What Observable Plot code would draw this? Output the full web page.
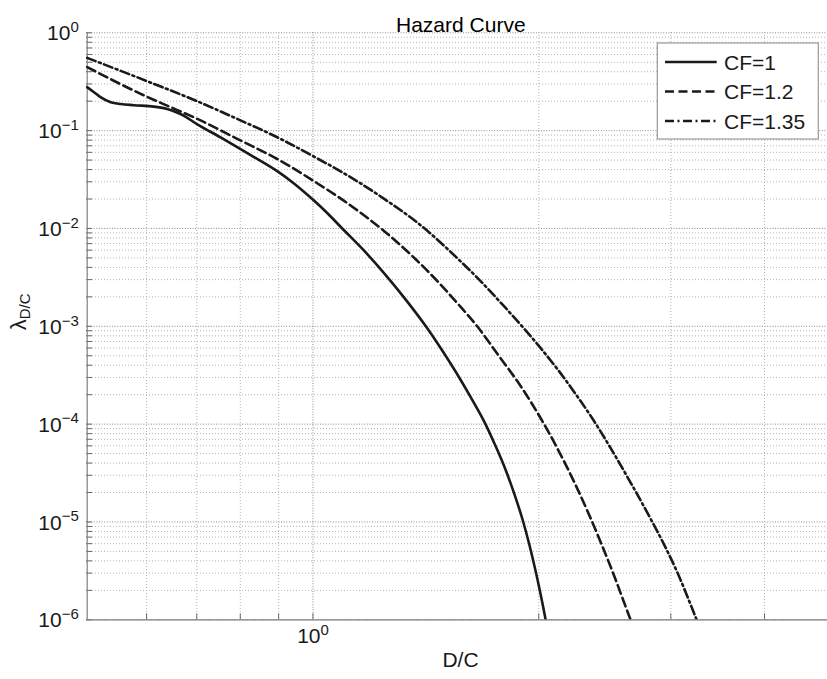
<!DOCTYPE html>
<html>
<head>
<meta charset="utf-8">
<script src="https://cdn.jsdelivr.net/npm/d3@7"></script>
<script src="https://cdn.jsdelivr.net/npm/@observablehq/plot@0.6"></script>
<style>
  html, body { margin: 0; padding: 0; background: #fff; }
  #wrap { position: relative; width: 827px; height: 679px; overflow: hidden; }
  #legend { position: absolute; left: 0; top: 0; pointer-events: none; }
</style>
</head>
<body>
<div id="wrap"></div>
<script>
// ---- data ----
const seriesNames = ["CF=1", "CF=1.2", "CF=1.35"];

const cf1X = [0.5, 0.5105, 0.5208, 0.5373, 0.5542, 0.5771, 0.6137, 0.6392, 0.6659, 0.7011, 0.7531, 0.7925, 0.8345, 0.8961, 0.9433, 1.003, 1.0471, 1.094, 1.1665, 1.2437, 1.3262, 1.4142, 1.4805, 1.55, 1.6228, 1.6982, 1.7462, 1.8009, 1.8569, 1.9055, 1.9444, 1.9847, 2.0262, 2.044, 2.0512];
const cf1Y = [0.278, 0.2472, 0.2198, 0.1954, 0.1871, 0.182, 0.1758, 0.1667, 0.1479, 0.1161, 0.0851, 0.0679, 0.0537, 0.0385, 0.02884, 0.01928, 0.01413, 0.01, 0.006067, 0.003499, 0.001919, 0.001, 0.000597, 0.0003428, 0.0001884, 0.0001, 6.31e-5, 3.63e-5, 1.905e-5, 1.023e-5, 5.75e-6, 2.95e-6, 1.38e-6, 9.77e-7, 8.51e-7];

const cf12X = [0.5, 0.6011, 0.6392, 0.7011, 0.7925, 0.8961, 1.0, 1.1248, 1.2458, 1.373, 1.4678, 1.5604, 1.6596, 1.7647, 1.8954, 2.0155, 2.1216, 2.2325, 2.3263, 2.423, 2.5238, 2.6303, 2.6571, 2.673];
const cf12Y = [0.4457, 0.2213, 0.1799, 0.1318, 0.0824, 0.0513, 0.0309, 0.01698, 0.00933, 0.004786, 0.002851, 0.001698, 0.000977, 0.000513, 0.0002399, 0.0001122, 5.5e-5, 2.512e-5, 1.259e-5, 6.03e-6, 2.754e-6, 1.175e-6, 9.55e-7, 8.32e-7];

const cf135X = [0.5, 0.6011, 0.7011, 0.7925, 0.8961, 1.0, 1.1248, 1.2458, 1.3804, 1.5604, 1.6765, 1.7829, 1.8954, 1.9953, 2.1216, 2.2555, 2.3618, 2.4984, 2.6571, 2.8253, 2.9734, 3.0665, 3.194, 3.2437, 3.2734];
const cf135Y = [0.5546, 0.3199, 0.1995, 0.1318, 0.0855, 0.05495, 0.03311, 0.01995, 0.01135, 0.004898, 0.002851, 0.001718, 0.001023, 0.000646, 0.000359, 0.0001884, 0.0001122, 5.56e-5, 2.455e-5, 1.047e-5, 4.9e-6, 2.951e-6, 1.38e-6, 1.023e-6, 8.51e-7];

// axis ticks / grid values
const yMajorTicks = [1e-6, 1e-5, 1e-4, 1e-3, 1e-2, 1e-1, 1];
const minorMultipliers = [2, 3, 4, 5, 6, 7, 8, 9];
const xMajorTicks = [1];
const xMinorTicks = [0.6, 0.7, 0.8, 0.9, 2, 3, 4];
const titleText = "Hazard Curve";
const xLabelText = "D/C";
const yLabelText = "λ_D/C";

// ---- build ----
const yMinorTicks = yMajorTicks.filter(d => d < 1).flatMap(d => minorMultipliers.map(m => m * d));
const rows = (xs, ys, name) => xs.map((x, i) => ({x, y: ys[i], name}));
const allSeries = [rows(cf1X, cf1Y, seriesNames[0]), rows(cf12X, cf12Y, seriesNames[1]), rows(cf135X, cf135Y, seriesNames[2])];
const dashes = [null, "9,4.5", "9,3.5,2,3.5"];
const lineColor = "#1a1a1a";
const expo = d => Math.round(Math.log10(d));

const W = 827, H = 679;
const mL = 86, mT = 32, mB = 59.7, mR = 0;
const gridMinor = {stroke: "#b4b4b4", strokeDasharray: "1,2", strokeWidth: 1};
const gridMajor = {stroke: "#8c8c8c", strokeDasharray: "1,1.6", strokeWidth: 1};
const frameH = H - mT - mB, frameW = W - mL - mR;

const plot = Plot.plot({
  width: W, height: H,
  marginLeft: mL, marginRight: mR, marginTop: mT, marginBottom: mB,
  style: {fontFamily: "'Liberation Sans', Arial, sans-serif", fontSize: "21px", background: "white", color: "#1a1a1a", overflow: "hidden"},
  x: {type: "log", domain: [0.5, 5], range: [86.7, 836.7], axis: null},
  y: {type: "log", domain: [1e-6, 1], range: [619.3, 32.3], axis: null},
  marks: [
    Plot.ruleY(yMinorTicks, {y: d => d, ...gridMinor}),
    Plot.ruleY(yMajorTicks, {y: d => d, ...gridMajor}),
    Plot.ruleX(xMinorTicks, {x: d => d, ...gridMinor}),
    Plot.ruleX(xMajorTicks, {x: d => d, ...gridMajor}),
    // inward ticks
    Plot.tickY(yMinorTicks.concat(yMajorTicks), {y: d => d, stroke: "#6a6a6a", insetRight: frameW - 6}),
    Plot.tickX(xMinorTicks.concat(xMajorTicks), {x: d => d, stroke: "#6a6a6a", insetTop: frameH - 6}),
    // axis lines
    Plot.ruleX([0.5], {x: d => d, stroke: "#808080", strokeWidth: 1.2}),
    Plot.ruleY([1e-6], {y: d => d, stroke: "#808080", strokeWidth: 1.2}),
    // curves
    ...allSeries.map((data, k) => Plot.line(data, {
      x: "x", y: "y", stroke: lineColor, strokeWidth: 2.6,
      strokeDasharray: dashes[k], curve: "monotone-x", clip: true
    })),
    // tick labels
    Plot.text(yMajorTicks, {y: d => d, frameAnchor: "left", textAnchor: "end", dx: -7.7, dy: 0.8,
      text: d => "10^" + expo(d), fontSize: 21, fill: "#1a1a1a"}),
    Plot.text(xMajorTicks, {x: d => d, frameAnchor: "bottom", dy: 23.3,
      text: d => "10^" + expo(d), fontSize: 21, fill: "#1a1a1a"}),
    // axis titles
    Plot.text([xLabelText], {frameAnchor: "bottom", dx: 3.5, dy: 47.3, text: d => d, fontSize: 21, fill: "#1a1a1a"}),
    Plot.text([yLabelText], {frameAnchor: "left", dx: -68, dy: 4.2, rotate: -90, text: d => d, fontSize: 22, fill: "#1a1a1a"}),
    Plot.text([titleText], {frameAnchor: "top", dx: 3.8, dy: -15, text: d => d, fontSize: 21, fill: "#000"})
  ]
});

// superscripts / subscripts as real text
d3.select(plot).selectAll("text").each(function() {
  const t = this.textContent;
  let m = /^10\^(.+)$/.exec(t);
  if (m) {
    this.textContent = "10";
    const ts = document.createElementNS("http://www.w3.org/2000/svg", "tspan");
    ts.setAttribute("font-size", "15");
    ts.setAttribute("dy", "-8.3");
    ts.textContent = m[1].replace("-", "\u2212");
    this.appendChild(ts);
    return;
  }
  m = /^(.+)_(.+)$/.exec(t);
  if (m) {
    this.textContent = m[1];
    const ts = document.createElementNS("http://www.w3.org/2000/svg", "tspan");
    ts.setAttribute("font-size", "15");
    ts.setAttribute("dy", "4.5");
    ts.textContent = m[2];
    this.appendChild(ts);
  }
});

const wrap = document.getElementById("wrap");
wrap.appendChild(plot);

// legend overlay
const lg = d3.select(wrap).append("svg").attr("id", "legend").attr("width", W).attr("height", H)
  .style("font-family", "'Liberation Sans', Arial, sans-serif");
lg.append("rect").attr("x", 657.3).attr("y", 43).attr("width", 161).attr("height", 96)
  .attr("fill", "white").attr("stroke", "#999").attr("stroke-width", 1.2);
const rowY = [62, 91.5, 121];
seriesNames.forEach((name, k) => {
  lg.append("line").attr("x1", 665).attr("x2", 716.7).attr("y1", rowY[k]).attr("y2", rowY[k])
    .attr("stroke", lineColor).attr("stroke-width", 2.6).attr("stroke-dasharray", dashes[k]);
  lg.append("text").attr("x", 724).attr("y", rowY[k] + 7.6).attr("font-size", 21)
    .attr("fill", "#1a1a1a").text(name);
});
</script>
</body>
</html>
